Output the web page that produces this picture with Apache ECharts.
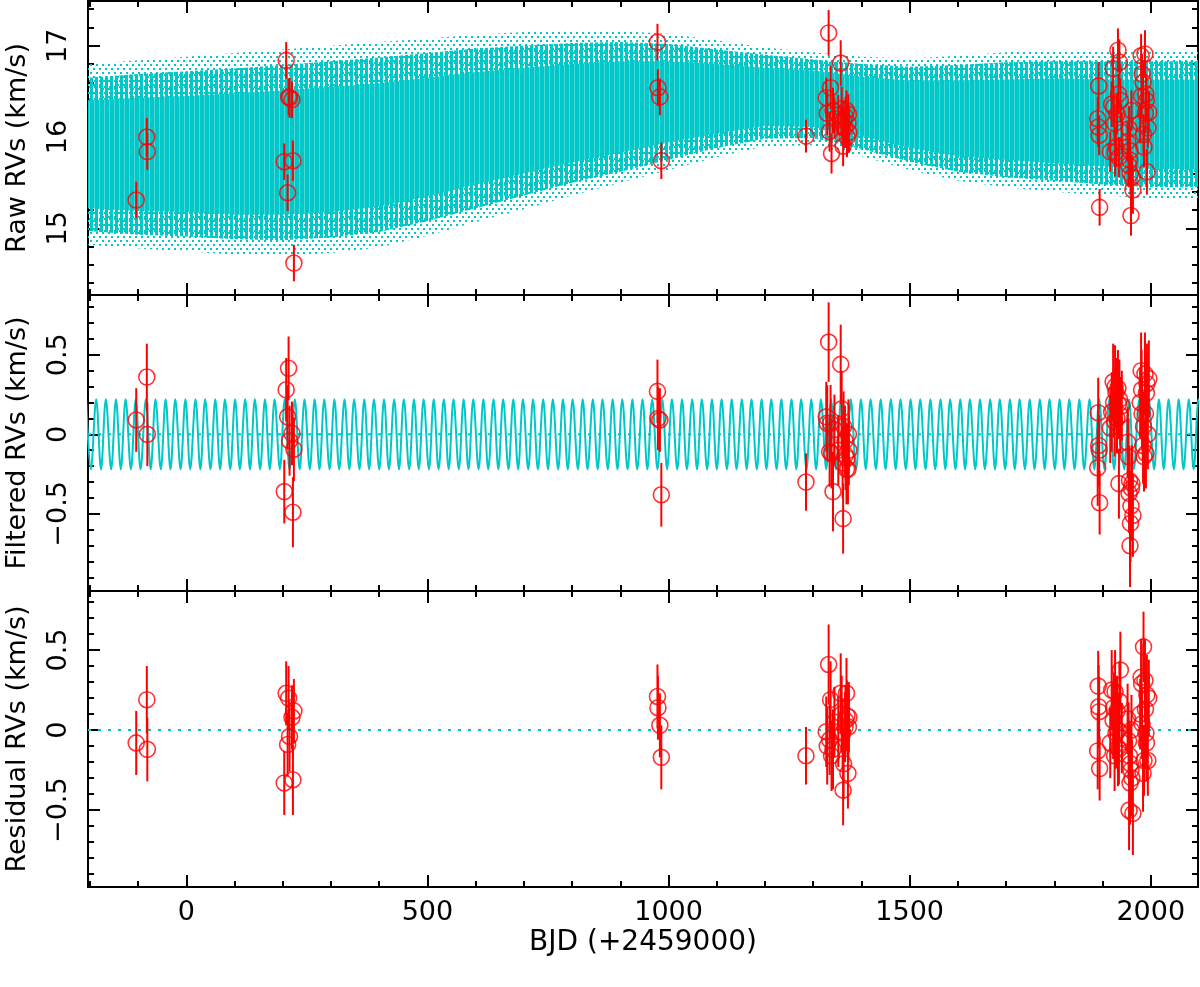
<!DOCTYPE html>
<html>
<head>
<meta charset="utf-8">
<script src="https://cdn.jsdelivr.net/npm/echarts@6.0.0/dist/echarts.min.js"></script>
<style>
  html, body { margin: 0; padding: 0; background: #fff; }
  #chart { width: 1200px; height: 987px; }
</style>
</head>
<body>
<div id="chart"></div>
<script>
// ---- observations (BJD - 2459000, km/s) ----
var bjd = [
  -104, -82, -81,
  203, 207, 210, 212, 214, 219, 221, 223,
  977, 978, 982, 985,
  1285,
  1327, 1329, 1332, 1334, 1336, 1338, 1341, 1344, 1352, 1357, 1359, 1361, 1362, 1363, 1366, 1367, 1369, 1370, 1372, 1373, 1374,
  1890, 1891, 1892, 1893, 1894,
  1916, 1919, 1922, 1923, 1925, 1926, 1928, 1930, 1932, 1933, 1934, 1935, 1937, 1940,
  1952, 1954, 1955, 1956, 1957, 1958, 1959, 1960, 1961, 1963,
  1978, 1980, 1981, 1982, 1984, 1985, 1986, 1988, 1989, 1990, 1991, 1992, 1994, 1996
];
var rawRV = [
  15.31, 16.00, 15.84,
  15.73, 16.84, 15.39, 16.44, 16.43, 16.41, 15.74, 14.62,
  17.04, 16.54, 16.44, 15.74,
  16.01,
  16.43, 16.26, 17.14, 16.06, 16.54, 15.82, 16.29, 16.20, 16.24, 16.81, 16.31, 16.12, 15.90, 16.18, 16.10, 16.22, 16.29, 16.00, 16.15, 16.25, 16.05,
  16.20, 16.11, 16.56, 16.02, 15.23,
  15.84, 16.36, 16.75, 16.33, 16.15, 15.83, 15.89, 16.25, 16.95, 16.47, 15.78, 16.82, 16.40, 16.05,
  15.95, 15.69, 16.09, 15.75, 15.85, 15.60, 15.14, 16.29, 15.56, 15.42,
  16.15, 16.89, 16.45, 16.69, 16.60, 16.03, 15.89, 16.91, 16.26, 16.47, 16.40, 15.62, 16.10, 16.27
];
var filtRV = [
  0.09, 0.36, 0.00,
  -0.36, 0.28, 0.11, 0.415, -0.04, 0.006, -0.49, -0.094,
  0.27, 0.10, 0.09, -0.38,
  -0.30,
  0.11, 0.07, 0.58, -0.11, 0.07, -0.12, -0.36, 0.03, -0.10, 0.44, 0.16, -0.18, -0.53, 0.05, -0.04, -0.13, -0.22, -0.15, -0.22, 0.00, -0.10,
  -0.21, 0.136, -0.07, -0.10, -0.43,
  0.04, 0.14, 0.33, 0.20, 0.08, 0.30, 0.26, 0.10, 0.29, 0.19, -0.31, 0.22, 0.12, 0.18,
  -0.05, -0.14, -0.37, -0.29, -0.70, -0.56, -0.45, -0.34, -0.31, -0.51,
  0.20, 0.40, 0.28, 0.13, -0.07, 0.05, -0.14, 0.38, 0.13, -0.12, 0.26, 0.32, 0.00, 0.35
];
var resRV = [
  -0.08, 0.19, -0.12,
  -0.33, 0.23, -0.09, 0.20, -0.04, 0.08, -0.31, 0.12,
  0.21, 0.14, 0.03, -0.17,
  -0.16,
  -0.01, -0.10, 0.41, -0.06, 0.19, -0.16, -0.12, 0.05, -0.01, 0.23, 0.10, -0.02, -0.375, -0.21, 0.02, 0.06, 0.23, 0.09, -0.27, 0.02, 0.08,
  -0.13, 0.275, 0.146, 0.115, -0.24,
  -0.08, 0.25, 0.06, 0.14, -0.16, 0.24, -0.02, 0.12, -0.11, 0.00, -0.12, 0.18, 0.375, -0.05,
  0.07, -0.067, -0.50, -0.16, -0.33, -0.21, -0.25, 0.00, -0.30, -0.52,
  0.10, 0.33, 0.29, 0.04, -0.27, 0.52, -0.19, 0.31, 0.13, -0.02, -0.08, 0.22, -0.19, 0.20
];
var errRV = [
  0.20, 0.21, 0.20,
  0.20, 0.20, 0.20, 0.20, 0.22, 0.20, 0.22, 0.20,
  0.20, 0.20, 0.20, 0.20,
  0.18,
  0.22, 0.24, 0.25, 0.22, 0.24, 0.22, 0.25, 0.22, 0.22, 0.25, 0.24, 0.22, 0.22, 0.22, 0.22, 0.22, 0.22, 0.22, 0.22, 0.22, 0.22,
  0.24, 0.22, 0.26, 0.22, 0.20,
  0.22, 0.25, 0.24, 0.22, 0.22, 0.26, 0.22, 0.22, 0.24, 0.22, 0.22, 0.25, 0.24, 0.22,
  0.22, 0.24, 0.25, 0.22, 0.26, 0.24, 0.22, 0.22, 0.24, 0.26,
  0.22, 0.24, 0.25, 0.22, 0.24, 0.22, 0.22, 0.26, 0.22, 0.22, 0.24, 0.25, 0.22, 0.24
];

// ---- raw model envelope ----
var bandX      = [-204, -100, 0, 100, 200, 300, 400, 500, 600, 700, 800, 900, 1000, 1100, 1200, 1300, 1400, 1500, 1600, 1700, 1800, 1900, 2000, 2098];
var bandTop    = [16.80, 16.84, 16.88, 16.92, 16.96, 17.00, 17.04, 17.08, 17.12, 17.15, 17.16, 17.16, 17.13, 17.06, 16.98, 16.93, 16.88, 16.86, 16.89, 16.93, 16.95, 16.95, 16.95, 16.95];
var bandBot    = [14.82, 14.78, 14.75, 14.71, 14.70, 14.73, 14.79, 14.92, 15.07, 15.21, 15.36, 15.50, 15.64, 15.78, 15.90, 15.91, 15.79, 15.64, 15.52, 15.45, 15.40, 15.36, 15.33, 15.33];
var stripeTop  = [16.65, 16.69, 16.72, 16.75, 16.79, 16.83, 16.87, 16.92, 16.97, 17.00, 17.03, 17.04, 17.02, 16.96, 16.90, 16.85, 16.80, 16.77, 16.79, 16.82, 16.83, 16.83, 16.83, 16.83];
var stripeBot  = [14.97, 14.93, 14.91, 14.88, 14.87, 14.90, 14.96, 15.08, 15.22, 15.36, 15.50, 15.62, 15.75, 15.88, 15.98, 15.99, 15.87, 15.73, 15.62, 15.56, 15.52, 15.48, 15.45, 15.45];
var coreTop    = [16.40, 16.43, 16.45, 16.48, 16.51, 16.55, 16.59, 16.65, 16.71, 16.76, 16.80, 16.83, 16.83, 16.80, 16.76, 16.73, 16.66, 16.62, 16.62, 16.63, 16.64, 16.63, 16.63, 16.63];
var coreBot    = [15.22, 15.19, 15.18, 15.15, 15.15, 15.18, 15.24, 15.35, 15.48, 15.60, 15.72, 15.83, 15.94, 16.04, 16.12, 16.11, 16.01, 15.88, 15.79, 15.75, 15.71, 15.68, 15.65, 15.65];

// ---- filtered model: times of maxima / minima and semi-amplitude ----
var filtAmp = 0.22;
var filtPeakX = [
  -208, -187, -167, -146, -126, -105, -84, -64, -43, -23,
  -2, 19, 39, 60, 80, 101, 122, 142, 163, 183,
  204, 225, 245, 266, 286, 307, 328, 348, 369, 389,
  410, 431, 451, 472, 492, 513, 534, 554, 575, 595,
  616, 637, 657, 678, 698, 719, 740, 760, 781, 801,
  822, 843, 863, 884, 904, 925, 946, 966, 987, 1007,
  1028, 1049, 1069, 1090, 1110, 1131, 1152, 1172, 1193, 1213,
  1234, 1255, 1275, 1296, 1316, 1337, 1358, 1378, 1399, 1419,
  1440, 1461, 1481, 1502, 1522, 1543, 1564, 1584, 1605, 1625,
  1646, 1667, 1687, 1708, 1728, 1749, 1770, 1790, 1811, 1831,
  1852, 1873, 1893, 1914, 1934, 1955, 1976, 1996, 2017, 2037,
  2058, 2079, 2099
];
var filtTroughX = [
  -198, -177, -156, -136, -115, -95, -74, -53, -33, -12,
  8, 29, 50, 70, 91, 111, 132, 153, 173, 194,
  214, 235, 256, 276, 297, 317, 338, 359, 379, 400,
  420, 441, 462, 482, 503, 523, 544, 565, 585, 606,
  626, 647, 668, 688, 709, 729, 750, 771, 791, 812,
  832, 853, 874, 894, 915, 935, 956, 977, 997, 1018,
  1038, 1059, 1080, 1100, 1121, 1141, 1162, 1183, 1203, 1224,
  1244, 1265, 1286, 1306, 1327, 1347, 1368, 1389, 1409, 1430,
  1450, 1471, 1492, 1512, 1533, 1553, 1574, 1595, 1615, 1636,
  1656, 1677, 1698, 1718, 1739, 1759, 1780, 1801, 1821, 1842,
  1862, 1883, 1904, 1924, 1945, 1965, 1986, 2007, 2027, 2048,
  2068, 2089, 2110
];
var zeroLineX = [-204, 2098];

// ---- axis ticks ----
var xMajor = [0, 500, 1000, 1500, 2000];
var xMinor = [-200, -100, 0, 100, 200, 300, 400, 500, 600, 700, 800, 900, 1000, 1100, 1200, 1300, 1400, 1500, 1600, 1700, 1800, 1900, 2000];
var rawMajor = [15, 16, 17];
var rawMinor = [14.4, 14.6, 14.8, 15.2, 15.4, 15.6, 15.8, 16.2, 16.4, 16.6, 16.8, 17.2, 17.4];
var kmsMajor = [-0.5, 0, 0.5];
var kmsMinor = [-0.9, -0.8, -0.7, -0.6, -0.4, -0.3, -0.2, -0.1, 0.1, 0.2, 0.3, 0.4, 0.6, 0.7, 0.8];

var CYAN = '#00c8c8';
var RED = '#ff0000';
var FONT = 'DejaVu Sans';
var X_MIN = -204, X_MAX = 2098;

function pattern(w, h, draw) {
  var c = document.createElement('canvas');
  c.width = w; c.height = h;
  draw(c.getContext('2d'));
  return { image: c, repeat: 'repeat' };
}
var dotFill = pattern(6, 8, function (ctx) {
  ctx.fillStyle = CYAN;
  ctx.fillRect(0, 0, 2, 2);
  ctx.fillRect(3, 4, 2, 2);
});
var stripeFill = pattern(5, 6, function (ctx) {
  ctx.fillStyle = CYAN;
  ctx.fillRect(0, 0, 3, 6);
  ctx.fillRect(4, 2, 1, 2);
});
var coreFill = pattern(5, 4, function (ctx) {
  ctx.fillStyle = CYAN;
  ctx.fillRect(0, 0, 5, 4);
  ctx.fillStyle = 'rgba(255,255,255,0.3)';
  ctx.fillRect(4, 0, 1, 4);
});

var grids = [
  { left: 88, right: 2, top: 1, height: 294 },
  { left: 88, right: 2, top: 295, height: 296 },
  { left: 88, right: 2, top: 591, height: 296 }
];
grids.forEach(function (g) { g.containLabel = false; g.outerBoundsMode = 'none'; });

var plain = function (v) { return (v < 0 ? '\u2212' : '') + Math.abs(v); };

function xAxisOf(g, pos, vals, len, major, label) {
  return {
    type: 'value', gridIndex: g, position: pos, min: X_MIN, max: X_MAX,
    splitLine: { show: false },
    axisLine: { show: major, onZero: false, lineStyle: { color: '#000', width: 2 } },
    axisTick: { show: true, inside: true, length: len, customValues: vals, lineStyle: { color: '#000', width: 2 } },
    axisLabel: { show: !!label, customValues: vals, margin: 12, formatter: plain,
                 fontSize: 27, fontFamily: FONT, color: '#000' },
    name: label ? 'BJD (+2459000)' : '',
    nameLocation: 'middle', nameGap: 42,
    nameTextStyle: { fontSize: 28, fontFamily: FONT, color: '#000' }
  };
}
function yAxisOf(g, pos, range, vals, len, major, name) {
  return {
    type: 'value', gridIndex: g, position: pos, min: range[0], max: range[1],
    splitLine: { show: false },
    axisLine: { show: major, onZero: false, lineStyle: { color: '#000', width: 2 } },
    axisTick: { show: true, inside: true, length: len, customValues: vals, lineStyle: { color: '#000', width: 2 } },
    axisLabel: { show: !!name, customValues: vals, rotate: 90, margin: 16, formatter: plain,
                 fontSize: 27, fontFamily: FONT, color: '#000' },
    name: name || '', nameLocation: 'middle', nameGap: 57, nameRotate: 90,
    nameTextStyle: { fontSize: 27, fontFamily: FONT, color: '#000' }
  };
}

var yRanges = [[14.27, 17.49], [-0.985, 0.876], [-0.98, 0.869]];
var yMajors = [rawMajor, kmsMajor, kmsMajor];
var yMinors = [rawMinor, kmsMinor, kmsMinor];
var yNames = ['Raw RVs (km/s)', 'Filtered RVs (km/s)', 'Residual RVs (km/s)'];

var xAxes = [], yAxes = [];
for (var g = 0; g < 3; g++) {
  xAxes.push(xAxisOf(g, 'bottom', xMajor, 12, true, g === 2));
  xAxes.push(xAxisOf(g, 'bottom', xMinor, 6, false, false));
  xAxes.push(xAxisOf(g, 'top', xMajor, 12, true, false));
  xAxes.push(xAxisOf(g, 'top', xMinor, 6, false, false));
  yAxes.push(yAxisOf(g, 'left', yRanges[g], yMajors[g], 12, true, yNames[g]));
  yAxes.push(yAxisOf(g, 'left', yRanges[g], yMinors[g], 6, false, null));
  yAxes.push(yAxisOf(g, 'right', yRanges[g], yMajors[g], 12, true, null));
  yAxes.push(yAxisOf(g, 'right', yRanges[g], yMinors[g], 6, false, null));
}

function band(top, bot, fill, z) {
  return {
    type: 'custom', xAxisIndex: 0, yAxisIndex: 0, z: z, silent: true, clip: true,
    data: [[1000, 16]],
    renderItem: function (params, api) {
      var pts = [];
      for (var i = 0; i < bandX.length; i++) pts.push(api.coord([bandX[i], top[i]]));
      for (var j = bandX.length - 1; j >= 0; j--) pts.push(api.coord([bandX[j], bot[j]]));
      return { type: 'polygon', shape: { points: pts }, style: { fill: fill } };
    }
  };
}

function errorBars(g, vals) {
  return {
    type: 'custom', xAxisIndex: 4 * g, yAxisIndex: 4 * g, z: 6, silent: true, clip: true,
    data: bjd.map(function (x, i) { return [x, vals[i], errRV[i]]; }),
    renderItem: function (params, api) {
      var x = api.value(0), y = api.value(1), e = api.value(2);
      var a = api.coord([x, y - e]), b = api.coord([x, y + e]);
      return { type: 'line', shape: { x1: a[0], y1: a[1], x2: b[0], y2: b[1] },
               style: { stroke: RED, lineWidth: 2 } };
    }
  };
}

function points(g, vals) {
  return {
    type: 'scatter', xAxisIndex: 4 * g, yAxisIndex: 4 * g, z: 7, silent: true,
    symbol: 'circle', symbolSize: 16,
    itemStyle: { color: 'rgba(0,0,0,0)', borderColor: RED, borderWidth: 1.6 },
    data: bjd.map(function (x, i) { return [x, vals[i]]; })
  };
}

function zeroLine(g, z) {
  return {
    type: 'line', xAxisIndex: 4 * g, yAxisIndex: 4 * g, z: z, silent: true,
    showSymbol: false, symbol: 'none',
    lineStyle: { color: CYAN, width: 2, type: [3, 7] },
    data: zeroLineX.map(function (x) { return [x, 0]; })
  };
}

var filtModel = filtPeakX.map(function (x) { return [x, filtAmp]; })
  .concat(filtTroughX.map(function (x) { return [x, -filtAmp]; }))
  .sort(function (a, b) { return a[0] - b[0]; });

var series = [
  band(bandTop, bandBot, dotFill, 1),
  band(stripeTop, stripeBot, stripeFill, 2),
  band(coreTop, coreBot, coreFill, 3),
  errorBars(0, rawRV),
  points(0, rawRV),

  zeroLine(1, 2),
  {
    type: 'line', xAxisIndex: 4, yAxisIndex: 4, z: 3, silent: true,
    showSymbol: false, symbol: 'none', smooth: 0.36, clip: true,
    lineStyle: { color: CYAN, width: 2 },
    data: filtModel
  },
  errorBars(1, filtRV),
  points(1, filtRV),

  zeroLine(2, 2),
  errorBars(2, resRV),
  points(2, resRV)
];

var chart = echarts.init(document.getElementById('chart'), null, { renderer: 'canvas' });
chart.setOption({
  animation: false,
  backgroundColor: '#fff',
  grid: grids,
  xAxis: xAxes,
  yAxis: yAxes,
  series: series
});
</script>
</body>
</html>
